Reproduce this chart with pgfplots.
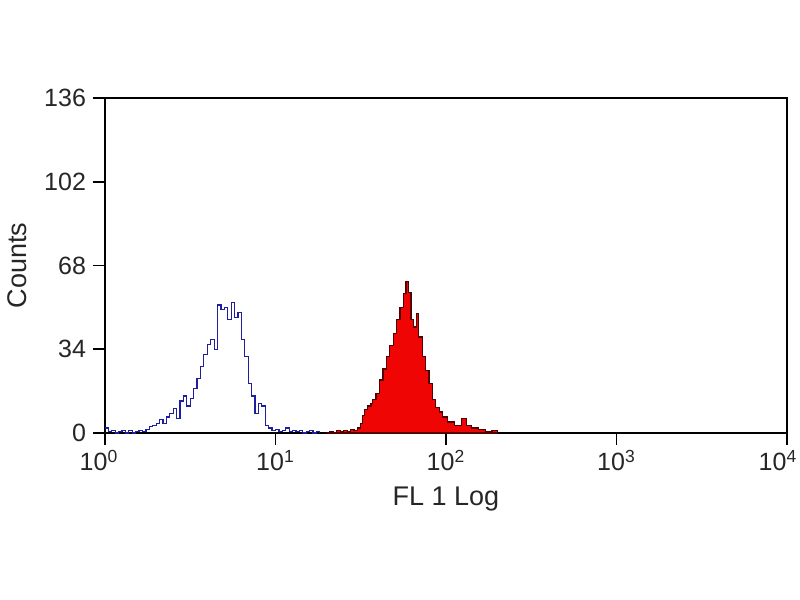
\documentclass[border=0pt]{standalone}
\usepackage{pgfplots}
\pgfplotsset{compat=1.18}
\usepackage{fontspec}
\setmainfont{Liberation Sans}
\definecolor{bluel}{RGB}{30,30,160}
\definecolor{redf}{RGB}{240,5,5}
\definecolor{redl}{RGB}{80,0,0}
\begin{document}
\begin{tikzpicture}[x=1pt,y=1pt]
\useasboundingbox (0,0) rectangle (400,300);
\begin{axis}[
  at={(52.5pt,83.5pt)}, anchor=south west,
  scale only axis, width=341pt, height=167.5pt,
  xmin=0, xmax=4, ymin=0, ymax=136,
  xtick={0,1,2,3,4},
  xticklabels={\hspace*{-6pt}10\textsuperscript{0},10\textsuperscript{1},10\textsuperscript{2},10\textsuperscript{3},\hspace*{-9pt}10\textsuperscript{4}},
  ytick={0,34,68,102,136},
  tick align=outside, major tick length=6pt,
  xtick pos=bottom, ytick pos=left,
  axis line style={line width=1pt},
  tick style={line width=0.8pt, black},
  tick label style={font=\fontsize{12.5}{14}\selectfont, text=black!85},
  xticklabel style={yshift=1pt},
  /pgf/number format/assume math mode=true,
  xlabel={FL 1 Log}, ylabel={Counts},
  label style={font=\fontsize{13.5}{15}\selectfont, text=black!85},
  xlabel style={yshift=-1pt},
  ylabel style={yshift=2pt},
  clip=false,
]
\addplot[const plot mark left, draw=bluel, line width=0.6pt] coordinates {
(0.00,2) (0.02,0.5) (0.04,1) (0.06,0) (0.08,0.5) (0.10,1) (0.12,0) (0.14,1) (0.16,0) (0.18,0.5)
(0.20,1) (0.22,0.5) (0.24,1.5) (0.26,2.5) (0.28,3) (0.30,4) (0.32,5.5) (0.34,4) (0.36,6.5) (0.38,8)
(0.40,10) (0.42,6) (0.44,13) (0.46,15) (0.48,11) (0.50,14) (0.52,18) (0.54,22) (0.56,27) (0.58,32)
(0.60,36) (0.62,38) (0.64,34) (0.66,52) (0.68,50) (0.70,51) (0.72,46) (0.74,53) (0.76,47) (0.78,49)
(0.80,38) (0.82,31) (0.84,20) (0.86,15) (0.88,8) (0.90,12) (0.92,11) (0.94,3) (0.96,2) (0.98,1)
(1.00,1.5) (1.02,0.5) (1.04,1) (1.06,2) (1.08,0.5) (1.10,1) (1.12,0.5) (1.14,1) (1.16,0) (1.18,0.5)
(1.20,1) (1.22,0) (1.24,0.5) (1.26,0)
};
\addplot[const plot mark left, fill=redf, draw=redl, line width=0.6pt] coordinates {
(1.30,0) (1.32,0.5) (1.34,0) (1.36,1) (1.38,0.5) (1.40,1) (1.42,0.5) (1.44,1.5) (1.46,1) (1.48,2)
(1.50,4) (1.51,7) (1.52,9.5) (1.54,11) (1.56,12) (1.57,13.5) (1.59,16) (1.61,21.5) (1.63,26) (1.65,31)
(1.67,35.5) (1.69,40.5) (1.71,46) (1.73,51) (1.75,56.5) (1.765,61.5) (1.78,57) (1.795,46) (1.81,43) (1.825,48.5)
(1.84,39) (1.86,31) (1.88,25.5) (1.90,20) (1.92,13.5) (1.94,10.5) (1.96,8.5) (1.98,6.5) (2.01,4.5) (2.05,3)
(2.09,6) (2.12,3) (2.15,2) (2.19,1.5) (2.23,0.5) (2.27,1) (2.30,0)
} \closedcycle;
\end{axis}
\end{tikzpicture}
\end{document}
